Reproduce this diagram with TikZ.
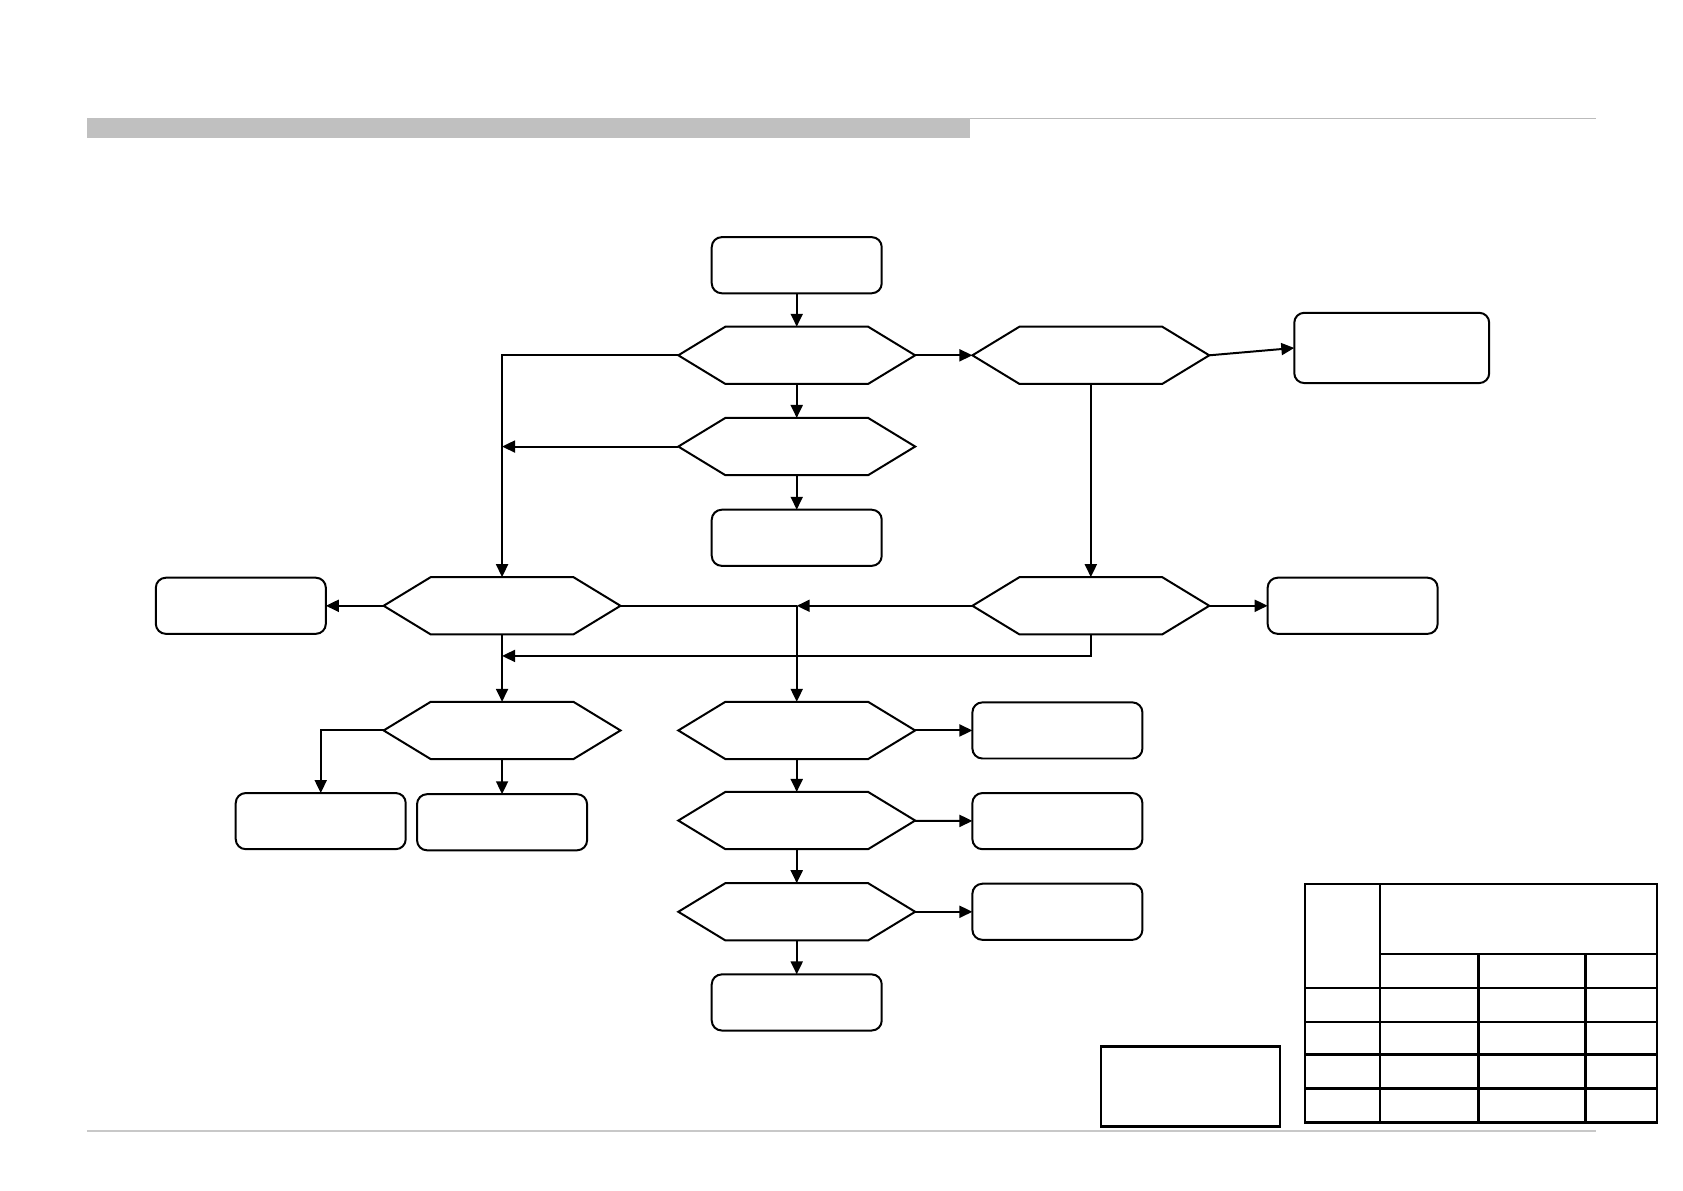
\documentclass[tikz,border=0pt]{standalone}
\usetikzlibrary{arrows.meta, positioning, calc}
\definecolor{cbar}{HTML}{C0C0C0}
\definecolor{crule}{HTML}{BBBBBB}
\definecolor{cfoot}{HTML}{C8C8C8}
\tikzset{
  every picture/.style={line width=1pt},
  box/.style={draw, rounded corners=5pt, minimum width=3.0cm, minimum height=0.99cm, inner sep=0pt, outer sep=0pt},
  hexnode/.style={minimum width=4.18cm, minimum height=1.01cm, inner sep=0pt, outer sep=0pt},
  arrow/.style={-{Triangle[length=6.5pt, width=6pt]}},
  grid/.style={line width=1.2pt},
}
\begin{document}
\begin{tikzpicture}
  \useasboundingbox (0,0) rectangle (29.7,-21.0);
  % page header and footer rules
  \fill[cbar] (1.535,-2.08) rectangle (17.12,-2.435);
  \draw[crule, line width=0.7pt] (17.12,-2.095) -- (28.17,-2.095);
  \draw[cfoot, line width=0.7pt] (1.535,-19.955) -- (28.17,-19.955);
  % main column
  \node[box] (top) at (14.06,-4.68) {};
  \node[hexnode] (q1) at (14.06,-6.27) {};
  \node[hexnode] (q2) at (14.06,-7.88) {};
  \node[box] (b1) at (14.06,-9.49) {};
  \node[hexnode] (q3) at (19.25,-6.27) {};
  \node[box, minimum width=3.44cm, minimum height=1.24cm] (c1) at (24.56,-6.14) {};
  % middle row
  \node[hexnode] (q4) at (8.86,-10.69) {};
  \node[box] (e1) at (4.25,-10.69) {};
  \node[hexnode] (q5) at (19.25,-10.69) {};
  \node[box] (f1) at (23.87,-10.69) {};
  % lower part
  \node[hexnode] (q7) at (8.86,-12.89) {};
  \node[box] (h1) at (5.66,-14.49) {};
  \node[box] (i1) at (8.86,-14.51) {};
  \node[hexnode] (q6) at (14.06,-12.89) {};
  \node[box] (g1) at (18.66,-12.89) {};
  \node[hexnode] (q8) at (14.06,-14.48) {};
  \node[box] (j1) at (18.66,-14.49) {};
  \node[hexnode] (q9) at (14.06,-16.09) {};
  \node[box] (k1) at (18.66,-16.09) {};
  \node[box] (l1) at (14.06,-17.69) {};
  % hexagon outlines
  \foreach \n in {q1,q2,q3,q4,q5,q6,q7,q8,q9}
    \draw (\n.west) -- ([xshift=0.83cm]\n.north west) -- ([xshift=-0.83cm]\n.north east) -- (\n.east)
      -- ([xshift=-0.83cm]\n.south east) -- ([xshift=0.83cm]\n.south west) -- cycle;
  % connectors
  \draw[arrow] (top) -- (q1);
  \draw[arrow] (q1) -- (q2);
  \draw[arrow] (q2) -- (b1);
  \draw[arrow] (q1) -- (q3);
  \draw[arrow] (q3.east) -- (c1.west);
  \draw[arrow] (q1.west) -| (q4.north);
  \draw[arrow] (q2.west) -- (q2.west -| q4.north);
  \draw[arrow] (q3) -- (q5);
  \draw[arrow] (q4) -- (e1);
  \draw[arrow] (q5) -- (f1);
  \coordinate (mj) at (q4.east -| q6.north);
  \draw (q4.east) -- (mj);
  \draw[arrow] (q5.west) -- (mj);
  \draw[arrow] (mj) -- (q6.north);
  \draw[arrow] (q5.south) |- ([yshift=-0.38cm]q4.south);
  \draw[arrow] (q4) -- (q7);
  \draw[arrow] (q7.west) -| (h1.north);
  \draw[arrow] (q7) -- (i1);
  \draw[arrow] (q6) -- (g1);
  \draw[arrow] (q6) -- (q8);
  \draw[arrow] (q8) -- (j1);
  \draw[arrow] (q8) -- (q9);
  \draw[arrow] (q9) -- (k1);
  \draw[arrow] (q9) -- (l1);
  % legend frame and table
  \draw[grid] (19.43,-18.47) rectangle (22.59,-19.88);
  \draw[grid] (23.03,-15.60) rectangle (29.24,-19.81);
  \draw[grid] (24.35,-15.60) -- (24.35,-19.81);
  \draw[grid] (24.35,-16.83) -- (29.24,-16.83);
  \foreach \x in {26.09,27.98} \draw[grid] (\x,-16.83) -- (\x,-19.81);
  \foreach \y in {-17.43,-18.03,-18.61,-19.21} \draw[grid] (23.03,\y) -- (29.24,\y);
\end{tikzpicture}
\end{document}
